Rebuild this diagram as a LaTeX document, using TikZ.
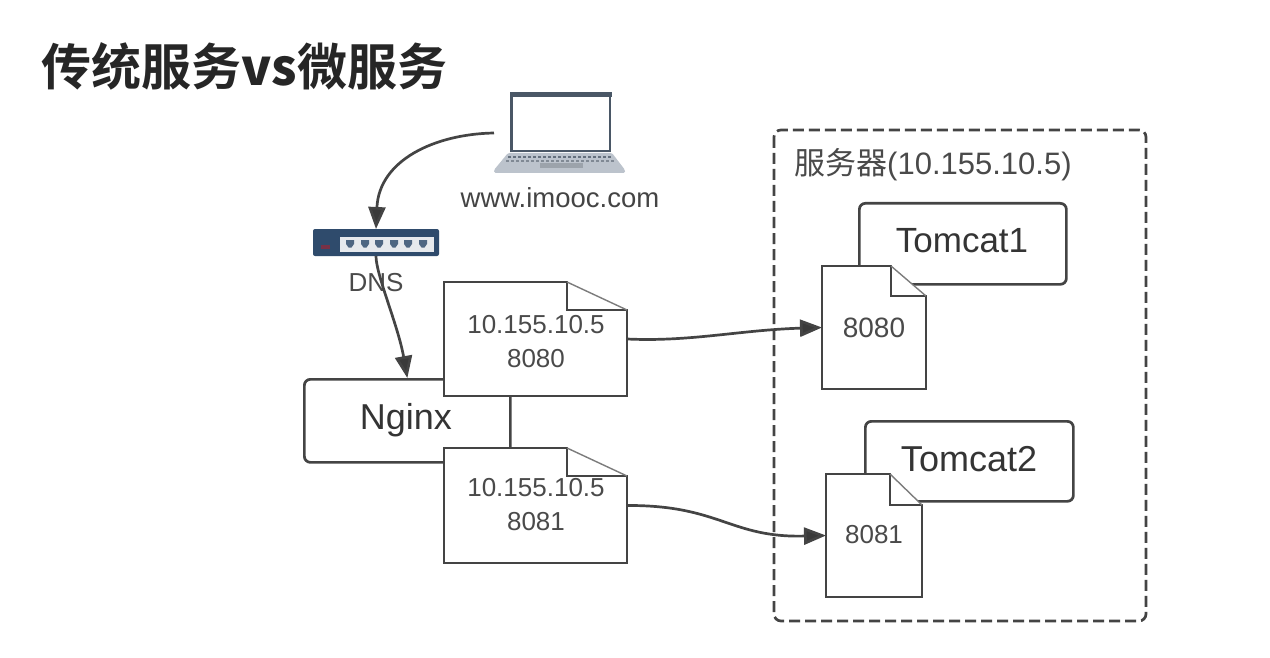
\documentclass[tikz,border=0pt]{standalone}
\usepackage{fontspec}
\setmainfont{Liberation Sans}
\newfontfamily\cjk{Noto Sans CJK SC}
\newfontfamily\cjkb{Noto Sans CJK SC Bold}
\usetikzlibrary{arrows.meta,fit}
\definecolor{ink}{HTML}{444444}
\definecolor{txt}{HTML}{4A4A4A}
\definecolor{navy}{HTML}{2F4B6C}
\definecolor{lapgrey}{HTML}{BCC3CC}
\definecolor{lapdark}{HTML}{4A5766}
\tikzset{
  linebox/.style={draw=ink,line width=2.7pt,fill=white,rounded corners=6pt},
  docbody/.style={draw=ink,line width=2.7pt,line join=miter},
  foldedge/.style={draw=ink!70,line width=1.4pt},
  label/.style={text=txt,inner sep=0pt,align=center,font=\fontsize{26}{34}\selectfont},
  boxlabel/.style={text=txt!70!black,inner sep=0pt},
  flow/.style={draw=ink,line width=2.7pt,-{Triangle[length=22pt,width=17pt,fill=ink!85!black]}},
  anchorbox/.style={inner sep=0pt,outer sep=0pt,draw=none}
}
% name, left, top, right, bottom, fold x, fold y
\newcommand{\docnote}[7]{%
  \node[anchorbox,fit={(#2,#3)(#4,#5)}] (#1) {};
  \fill[white] (#2,#3) -- (#6,#3) -- (#4,#7) -- (#4,#5) -- (#2,#5) -- cycle;
  \path[docbody] (#2,#3) -- (#6,#3) -- (#6,#7) -- (#4,#7) -- (#4,#5) -- (#2,#5) -- cycle;
  \path[foldedge] (#6,#3) -- (#4,#7);
}
\begin{document}
\begin{tikzpicture}[x=1pt,y=-1pt]
\useasboundingbox (0,0) rectangle (1270,658);
\fill[white] (0,0) rectangle (1270,658);

% title
\node[anchor=west,inner sep=0pt,text=black!85] (title) at (41,66)
  {\fontsize{50}{56}\selectfont\cjkb 传统服务\textbf{vs}微服务};

% server container
\node[anchorbox,fit={(774,130)(1146,621)}] (server) {};
\draw[ink,line width=2.7pt,dash pattern=on 11pt off 5pt,rounded corners=7pt]
  (774,130) rectangle (1146,621);
\node[label,anchor=west] (serverlabel) at (794,165) {\fontsize{31}{36}\selectfont\cjk 服务器\fontspec{Liberation Sans}(10.155.10.5)};

% laptop
\node[anchorbox,fit={(494,93)(625,173)}] (laptop) {};
\fill[lapgrey,rounded corners=1.5pt] (508,153) -- (612,153) -- (625,170) -- (625,173) -- (494,173) -- (494,170) -- cycle;
\draw[lapdark,line width=2.4pt,fill=white] (511.5,94.5) rectangle (610,151);
\fill[lapdark] (510,92.5) rectangle (612,97);
\foreach \kx in {508,513,...,608} {\fill[lapdark!85] (\kx,156) rectangle ++(3,2.5);}
\foreach \kx in {506,511,...,611} {\fill[lapdark!70] (\kx,160) rectangle ++(3,2);}
\fill[lapdark!55] (540,163) rectangle (583,168);
\node[label,text=ink,font=\fontsize{27.5}{34}\selectfont] (laptoplabel) at (560,198) {www.imooc.com};

% switch
\node[anchorbox,fit={(313,229)(439,256)}] (switch) {};
\fill[navy,rounded corners=2pt] (313,229) rectangle (439,256);
\fill[white!88!navy] (340,237) rectangle (434,252);
\foreach \px in {350,365,379,394,408,423} {
  \fill[navy!85] (\px-4,240) -- (\px+4,240) -- (\px+4,244) -- (\px+1.5,247.5) -- (\px-1.5,247.5) -- (\px-4,244) -- cycle;
}
\fill[red!35!navy] (321,245) rectangle (330,249);
\node[label] (dnslabel) at (376,283) {DNS};

% nginx and its notes
\node[linebox,minimum width=206pt,minimum height=83pt,inner sep=0pt,anchor=north west] (nginx) at (303,378) {};
\node[boxlabel,font=\fontsize{36}{40}\selectfont] (nginxlabel) at (406,420) {Nginx};
\docnote{note1}{444}{282}{627}{396}{567}{310}
\node[label] (note1label) at (536,342) {10.155.10.5\\8080};
\docnote{note2}{444}{448}{627}{563}{567}{476}
\node[label] (note2label) at (536,505) {10.155.10.5\\8081};

% tomcats
\node[linebox,minimum width=207pt,minimum height=81pt,inner sep=0pt,anchor=north west] (tomcat1) at (858,202) {};
\node[boxlabel,font=\fontsize{35}{40}\selectfont] (tomcat1label) at (962,241) {Tomcat1};
\docnote{tdoc1}{822}{266}{926}{389}{891}{296}
\node[label,font=\fontsize{28}{34}\selectfont] (tdoc1label) at (874,328) {8080};

\node[linebox,minimum width=208pt,minimum height=80pt,inner sep=0pt,anchor=north west] (tomcat2) at (864,420) {};
\node[boxlabel,font=\fontsize{36}{40}\selectfont] (tomcat2label) at (969,459) {Tomcat2};
\docnote{tdoc2}{826}{474}{922}{597}{890}{505}
\node[label] (tdoc2label) at (874,535) {8081};

% connectors
\draw[flow] (laptop.west) .. controls (435,134) and (379,160) .. (switch.north);
\draw[flow] (switch.south) .. controls (376,275) and (398,325) .. (nginx.north);
\draw[flow] (note1.east) .. controls (690,342) and (740,330) .. (tdoc1.west);
\draw[flow] (note2.east) .. controls (720,505) and (730,538) .. (tdoc2.west);
\end{tikzpicture}
\end{document}
